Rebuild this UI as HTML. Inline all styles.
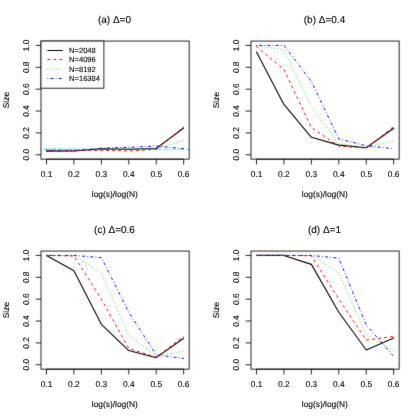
<!DOCTYPE html>
<html><head><meta charset="utf-8"><title>plot</title>
<style>
html,body{margin:0;padding:0;background:#fff;}
body{width:420px;height:420px;overflow:hidden;}
svg{display:block;}
text{font-family:"Liberation Sans",sans-serif;fill:#000;stroke:#000;stroke-width:0.12px;text-rendering:geometricPrecision;}
</style></head><body>
<svg width="420" height="420" viewBox="0 0 420 420">
<defs>
<filter id="soft" x="0" y="0" width="420" height="420" filterUnits="userSpaceOnUse" color-interpolation-filters="sRGB">
<feConvolveMatrix order="3" kernelMatrix="0.015 0.065 0.015 0.065 0.680 0.065 0.015 0.065 0.015" divisor="1" edgeMode="duplicate" preserveAlpha="true"/>
</filter>
<filter id="softt" x="0" y="0" width="420" height="420" filterUnits="userSpaceOnUse" color-interpolation-filters="sRGB">
<feConvolveMatrix order="3" kernelMatrix="0.005 0.035 0.005 0.035 0.840 0.035 0.005 0.035 0.005" divisor="1" edgeMode="duplicate" preserveAlpha="false"/>
</filter>
</defs>
<rect x="0" y="0" width="420" height="420" fill="#fff"/>
<g filter="url(#soft)">
<rect x="0" y="0" width="420" height="420" fill="#fff"/>
<g transform="translate(0,0)">
<line x1="41.00" x2="189.15" y1="149.31" y2="149.31" stroke="#00ffff" stroke-width="1.05" stroke-dasharray="4.5 3" stroke-dashoffset="4.2" stroke-linecap="round"/>
<polyline points="46.49,151.17 73.92,150.95 101.36,148.76 128.79,149.31 156.23,148.54 183.66,127.98" fill="none" stroke="#000000" stroke-width="1.1" stroke-linecap="round" stroke-linejoin="round"/>
<polyline points="46.49,150.40 73.92,150.40 101.36,150.40 128.79,150.95 156.23,149.31 183.66,126.89" fill="none" stroke="#ff0000" stroke-width="1.0" stroke-linecap="round" stroke-linejoin="round" stroke-dasharray="2.0 4.0"/>
<polyline points="46.49,148.76 73.92,149.31 101.36,150.40 128.79,149.31 156.23,148.76 183.66,140.56" fill="none" stroke="#00cd00" stroke-width="0.9" stroke-linecap="round" stroke-linejoin="round" stroke-dasharray="0.01 2.99"/>
<polyline points="46.49,150.40 73.92,150.95 101.36,148.21 128.79,147.34 156.23,146.03 183.66,148.65" fill="none" stroke="#0000ff" stroke-width="0.95" stroke-linecap="round" stroke-linejoin="round" stroke-dasharray="0.01 3 2.25 3"/>
<rect x="41.00" y="41.05" width="148.15" height="118.10" fill="none" stroke="#000" stroke-width="0.85"/>
<path d="M46.49,159.15H183.66" stroke="#000" stroke-width="0.85" fill="none"/>
<path d="M46.49,159.15v5.38" stroke="#000" stroke-width="0.85" fill="none"/>
<path d="M73.92,159.15v5.38" stroke="#000" stroke-width="0.85" fill="none"/>
<path d="M101.36,159.15v5.38" stroke="#000" stroke-width="0.85" fill="none"/>
<path d="M128.79,159.15v5.38" stroke="#000" stroke-width="0.85" fill="none"/>
<path d="M156.23,159.15v5.38" stroke="#000" stroke-width="0.85" fill="none"/>
<path d="M183.66,159.15v5.38" stroke="#000" stroke-width="0.85" fill="none"/>
<path d="M41.00,154.78h-5.38" stroke="#000" stroke-width="0.85" fill="none"/>
<path d="M41.00,132.91h-5.38" stroke="#000" stroke-width="0.85" fill="none"/>
<path d="M41.00,111.04h-5.38" stroke="#000" stroke-width="0.85" fill="none"/>
<path d="M41.00,89.16h-5.38" stroke="#000" stroke-width="0.85" fill="none"/>
<path d="M41.00,67.29h-5.38" stroke="#000" stroke-width="0.85" fill="none"/>
<path d="M41.00,45.42h-5.38" stroke="#000" stroke-width="0.85" fill="none"/>
<rect x="41.00" y="41.05" width="62.90" height="47.15" fill="#fff" stroke="#000" stroke-width="0.85"/>
<line x1="47.8" x2="62.4" y1="50.50" y2="50.50" stroke="#000000" stroke-width="1.1" stroke-linecap="round"/>
<line x1="47.8" x2="62.4" y1="59.50" y2="59.50" stroke="#ff0000" stroke-width="1.0" stroke-linecap="round" stroke-dasharray="2.0 4.0"/>
<line x1="47.8" x2="62.4" y1="69.15" y2="69.15" stroke="#00cd00" stroke-width="0.9" stroke-linecap="round" stroke-dasharray="0.01 2.99"/>
<line x1="47.8" x2="62.4" y1="78.50" y2="78.50" stroke="#0000ff" stroke-width="0.95" stroke-linecap="round" stroke-dasharray="0.01 3 2.25 3"/>
</g>
<g transform="translate(210,0)">
<polyline points="46.49,51.99 73.92,104.47 101.36,137.28 128.79,145.15 156.23,147.78 183.66,128.20" fill="none" stroke="#000000" stroke-width="1.1" stroke-linecap="round" stroke-linejoin="round"/>
<polyline points="46.49,46.52 73.92,69.48 101.36,127.44 128.79,146.03 156.23,148.21 183.66,126.56" fill="none" stroke="#ff0000" stroke-width="1.0" stroke-linecap="round" stroke-linejoin="round" stroke-dasharray="2.0 4.0"/>
<polyline points="46.49,45.42 73.92,49.80 101.36,106.66 128.79,143.84 156.23,147.34 183.66,141.11" fill="none" stroke="#00cd00" stroke-width="0.9" stroke-linecap="round" stroke-linejoin="round" stroke-dasharray="0.01 2.99"/>
<polyline points="46.49,45.42 73.92,45.42 101.36,81.51 128.79,138.92 156.23,145.70 183.66,148.76" fill="none" stroke="#0000ff" stroke-width="0.95" stroke-linecap="round" stroke-linejoin="round" stroke-dasharray="0.01 3 2.25 3"/>
<rect x="41.00" y="41.05" width="148.15" height="118.10" fill="none" stroke="#000" stroke-width="0.85"/>
<path d="M46.49,159.15H183.66" stroke="#000" stroke-width="0.85" fill="none"/>
<path d="M46.49,159.15v5.38" stroke="#000" stroke-width="0.85" fill="none"/>
<path d="M73.92,159.15v5.38" stroke="#000" stroke-width="0.85" fill="none"/>
<path d="M101.36,159.15v5.38" stroke="#000" stroke-width="0.85" fill="none"/>
<path d="M128.79,159.15v5.38" stroke="#000" stroke-width="0.85" fill="none"/>
<path d="M156.23,159.15v5.38" stroke="#000" stroke-width="0.85" fill="none"/>
<path d="M183.66,159.15v5.38" stroke="#000" stroke-width="0.85" fill="none"/>
<path d="M41.00,154.78h-5.38" stroke="#000" stroke-width="0.85" fill="none"/>
<path d="M41.00,132.91h-5.38" stroke="#000" stroke-width="0.85" fill="none"/>
<path d="M41.00,111.04h-5.38" stroke="#000" stroke-width="0.85" fill="none"/>
<path d="M41.00,89.16h-5.38" stroke="#000" stroke-width="0.85" fill="none"/>
<path d="M41.00,67.29h-5.38" stroke="#000" stroke-width="0.85" fill="none"/>
<path d="M41.00,45.42h-5.38" stroke="#000" stroke-width="0.85" fill="none"/>
</g>
<g transform="translate(0,210)">
<polyline points="46.49,45.42 73.92,60.73 101.36,114.32 128.79,140.56 156.23,147.67 183.66,128.20" fill="none" stroke="#000000" stroke-width="1.1" stroke-linecap="round" stroke-linejoin="round"/>
<polyline points="46.49,45.42 73.92,45.97 101.36,89.16 128.79,138.37 156.23,147.12 183.66,126.34" fill="none" stroke="#ff0000" stroke-width="1.0" stroke-linecap="round" stroke-linejoin="round" stroke-dasharray="2.0 4.0"/>
<polyline points="46.49,45.42 73.92,45.42 101.36,62.92 128.79,125.47 156.23,146.03 183.66,141.00" fill="none" stroke="#00cd00" stroke-width="0.9" stroke-linecap="round" stroke-linejoin="round" stroke-dasharray="0.01 2.99"/>
<polyline points="46.49,45.42 73.92,45.42 101.36,47.61 128.79,102.29 156.23,144.93 183.66,148.43" fill="none" stroke="#0000ff" stroke-width="0.95" stroke-linecap="round" stroke-linejoin="round" stroke-dasharray="0.01 3 2.25 3"/>
<rect x="41.00" y="41.05" width="148.15" height="118.10" fill="none" stroke="#000" stroke-width="0.85"/>
<path d="M46.49,159.15H183.66" stroke="#000" stroke-width="0.85" fill="none"/>
<path d="M46.49,159.15v5.38" stroke="#000" stroke-width="0.85" fill="none"/>
<path d="M73.92,159.15v5.38" stroke="#000" stroke-width="0.85" fill="none"/>
<path d="M101.36,159.15v5.38" stroke="#000" stroke-width="0.85" fill="none"/>
<path d="M128.79,159.15v5.38" stroke="#000" stroke-width="0.85" fill="none"/>
<path d="M156.23,159.15v5.38" stroke="#000" stroke-width="0.85" fill="none"/>
<path d="M183.66,159.15v5.38" stroke="#000" stroke-width="0.85" fill="none"/>
<path d="M41.00,154.78h-5.38" stroke="#000" stroke-width="0.85" fill="none"/>
<path d="M41.00,132.91h-5.38" stroke="#000" stroke-width="0.85" fill="none"/>
<path d="M41.00,111.04h-5.38" stroke="#000" stroke-width="0.85" fill="none"/>
<path d="M41.00,89.16h-5.38" stroke="#000" stroke-width="0.85" fill="none"/>
<path d="M41.00,67.29h-5.38" stroke="#000" stroke-width="0.85" fill="none"/>
<path d="M41.00,45.42h-5.38" stroke="#000" stroke-width="0.85" fill="none"/>
</g>
<g transform="translate(210,210)">
<polyline points="46.49,45.42 73.92,45.42 101.36,54.39 128.79,102.29 156.23,140.01 183.66,127.98" fill="none" stroke="#000000" stroke-width="1.1" stroke-linecap="round" stroke-linejoin="round"/>
<polyline points="46.49,45.42 73.92,45.42 101.36,45.75 128.79,89.16 156.23,130.06 183.66,126.34" fill="none" stroke="#ff0000" stroke-width="1.0" stroke-linecap="round" stroke-linejoin="round" stroke-dasharray="2.0 4.0"/>
<polyline points="46.49,45.42 73.92,45.42 101.36,45.42 128.79,62.92 156.23,125.03 183.66,140.56" fill="none" stroke="#00cd00" stroke-width="0.9" stroke-linecap="round" stroke-linejoin="round" stroke-dasharray="0.01 2.99"/>
<polyline points="46.49,45.42 73.92,45.42 101.36,45.42 128.79,48.16 156.23,114.86 183.66,146.36" fill="none" stroke="#0000ff" stroke-width="0.95" stroke-linecap="round" stroke-linejoin="round" stroke-dasharray="0.01 3 2.25 3"/>
<rect x="41.00" y="41.05" width="148.15" height="118.10" fill="none" stroke="#000" stroke-width="0.85"/>
<path d="M46.49,159.15H183.66" stroke="#000" stroke-width="0.85" fill="none"/>
<path d="M46.49,159.15v5.38" stroke="#000" stroke-width="0.85" fill="none"/>
<path d="M73.92,159.15v5.38" stroke="#000" stroke-width="0.85" fill="none"/>
<path d="M101.36,159.15v5.38" stroke="#000" stroke-width="0.85" fill="none"/>
<path d="M128.79,159.15v5.38" stroke="#000" stroke-width="0.85" fill="none"/>
<path d="M156.23,159.15v5.38" stroke="#000" stroke-width="0.85" fill="none"/>
<path d="M183.66,159.15v5.38" stroke="#000" stroke-width="0.85" fill="none"/>
<path d="M41.00,154.78h-5.38" stroke="#000" stroke-width="0.85" fill="none"/>
<path d="M41.00,132.91h-5.38" stroke="#000" stroke-width="0.85" fill="none"/>
<path d="M41.00,111.04h-5.38" stroke="#000" stroke-width="0.85" fill="none"/>
<path d="M41.00,89.16h-5.38" stroke="#000" stroke-width="0.85" fill="none"/>
<path d="M41.00,67.29h-5.38" stroke="#000" stroke-width="0.85" fill="none"/>
<path d="M41.00,45.42h-5.38" stroke="#000" stroke-width="0.85" fill="none"/>
</g>
</g>
<g filter="url(#softt)">
<g transform="translate(0,0)">
<text x="46.49" y="176.88" font-size="8.40" text-anchor="middle">0.1</text>
<text x="73.92" y="176.88" font-size="8.40" text-anchor="middle">0.2</text>
<text x="101.36" y="176.88" font-size="8.40" text-anchor="middle">0.3</text>
<text x="128.79" y="176.88" font-size="8.40" text-anchor="middle">0.4</text>
<text x="156.23" y="176.88" font-size="8.40" text-anchor="middle">0.5</text>
<text x="183.66" y="176.88" font-size="8.40" text-anchor="middle">0.6</text>
<text transform="translate(28.74,154.78) rotate(-90)" font-size="8.40" text-anchor="middle">0.0</text>
<text transform="translate(28.74,132.91) rotate(-90)" font-size="8.40" text-anchor="middle">0.2</text>
<text transform="translate(28.74,111.04) rotate(-90)" font-size="8.40" text-anchor="middle">0.4</text>
<text transform="translate(28.74,89.16) rotate(-90)" font-size="8.40" text-anchor="middle">0.6</text>
<text transform="translate(28.74,67.29) rotate(-90)" font-size="8.40" text-anchor="middle">0.8</text>
<text transform="translate(28.74,45.42) rotate(-90)" font-size="8.40" text-anchor="middle">1.0</text>
<text x="114.83" y="196.90" font-size="8.40" text-anchor="middle">log(s)/log(N)</text>
<text transform="translate(9.03,100.10) rotate(-90)" font-size="8.40" text-anchor="middle">Size</text>
<text x="114.48" y="22.90" font-size="10.00" text-anchor="middle">(a) Δ=0</text>
<text x="69.0" y="53.25" font-size="7.6">N=2048</text>
<text x="69.0" y="62.25" font-size="7.6">N=4096</text>
<text x="69.0" y="71.90" font-size="7.6">N=8192</text>
<text x="69.0" y="81.25" font-size="7.6">N=16384</text>
</g>
<g transform="translate(210,0)">
<text x="46.49" y="176.88" font-size="8.40" text-anchor="middle">0.1</text>
<text x="73.92" y="176.88" font-size="8.40" text-anchor="middle">0.2</text>
<text x="101.36" y="176.88" font-size="8.40" text-anchor="middle">0.3</text>
<text x="128.79" y="176.88" font-size="8.40" text-anchor="middle">0.4</text>
<text x="156.23" y="176.88" font-size="8.40" text-anchor="middle">0.5</text>
<text x="183.66" y="176.88" font-size="8.40" text-anchor="middle">0.6</text>
<text transform="translate(28.74,154.78) rotate(-90)" font-size="8.40" text-anchor="middle">0.0</text>
<text transform="translate(28.74,132.91) rotate(-90)" font-size="8.40" text-anchor="middle">0.2</text>
<text transform="translate(28.74,111.04) rotate(-90)" font-size="8.40" text-anchor="middle">0.4</text>
<text transform="translate(28.74,89.16) rotate(-90)" font-size="8.40" text-anchor="middle">0.6</text>
<text transform="translate(28.74,67.29) rotate(-90)" font-size="8.40" text-anchor="middle">0.8</text>
<text transform="translate(28.74,45.42) rotate(-90)" font-size="8.40" text-anchor="middle">1.0</text>
<text x="114.83" y="196.90" font-size="8.40" text-anchor="middle">log(s)/log(N)</text>
<text transform="translate(9.03,100.10) rotate(-90)" font-size="8.40" text-anchor="middle">Size</text>
<text x="114.48" y="22.90" font-size="10.00" text-anchor="middle">(b) Δ=0.4</text>
</g>
<g transform="translate(0,210)">
<text x="46.49" y="176.88" font-size="8.40" text-anchor="middle">0.1</text>
<text x="73.92" y="176.88" font-size="8.40" text-anchor="middle">0.2</text>
<text x="101.36" y="176.88" font-size="8.40" text-anchor="middle">0.3</text>
<text x="128.79" y="176.88" font-size="8.40" text-anchor="middle">0.4</text>
<text x="156.23" y="176.88" font-size="8.40" text-anchor="middle">0.5</text>
<text x="183.66" y="176.88" font-size="8.40" text-anchor="middle">0.6</text>
<text transform="translate(28.74,154.78) rotate(-90)" font-size="8.40" text-anchor="middle">0.0</text>
<text transform="translate(28.74,132.91) rotate(-90)" font-size="8.40" text-anchor="middle">0.2</text>
<text transform="translate(28.74,111.04) rotate(-90)" font-size="8.40" text-anchor="middle">0.4</text>
<text transform="translate(28.74,89.16) rotate(-90)" font-size="8.40" text-anchor="middle">0.6</text>
<text transform="translate(28.74,67.29) rotate(-90)" font-size="8.40" text-anchor="middle">0.8</text>
<text transform="translate(28.74,45.42) rotate(-90)" font-size="8.40" text-anchor="middle">1.0</text>
<text x="114.83" y="196.90" font-size="8.40" text-anchor="middle">log(s)/log(N)</text>
<text transform="translate(9.03,100.10) rotate(-90)" font-size="8.40" text-anchor="middle">Size</text>
<text x="114.48" y="22.90" font-size="10.00" text-anchor="middle">(c) Δ=0.6</text>
</g>
<g transform="translate(210,210)">
<text x="46.49" y="176.88" font-size="8.40" text-anchor="middle">0.1</text>
<text x="73.92" y="176.88" font-size="8.40" text-anchor="middle">0.2</text>
<text x="101.36" y="176.88" font-size="8.40" text-anchor="middle">0.3</text>
<text x="128.79" y="176.88" font-size="8.40" text-anchor="middle">0.4</text>
<text x="156.23" y="176.88" font-size="8.40" text-anchor="middle">0.5</text>
<text x="183.66" y="176.88" font-size="8.40" text-anchor="middle">0.6</text>
<text transform="translate(28.74,154.78) rotate(-90)" font-size="8.40" text-anchor="middle">0.0</text>
<text transform="translate(28.74,132.91) rotate(-90)" font-size="8.40" text-anchor="middle">0.2</text>
<text transform="translate(28.74,111.04) rotate(-90)" font-size="8.40" text-anchor="middle">0.4</text>
<text transform="translate(28.74,89.16) rotate(-90)" font-size="8.40" text-anchor="middle">0.6</text>
<text transform="translate(28.74,67.29) rotate(-90)" font-size="8.40" text-anchor="middle">0.8</text>
<text transform="translate(28.74,45.42) rotate(-90)" font-size="8.40" text-anchor="middle">1.0</text>
<text x="114.83" y="196.90" font-size="8.40" text-anchor="middle">log(s)/log(N)</text>
<text transform="translate(9.03,100.10) rotate(-90)" font-size="8.40" text-anchor="middle">Size</text>
<text x="114.48" y="22.90" font-size="10.00" text-anchor="middle">(d) Δ=1</text>
</g>
</g>
</svg>
</body></html>
